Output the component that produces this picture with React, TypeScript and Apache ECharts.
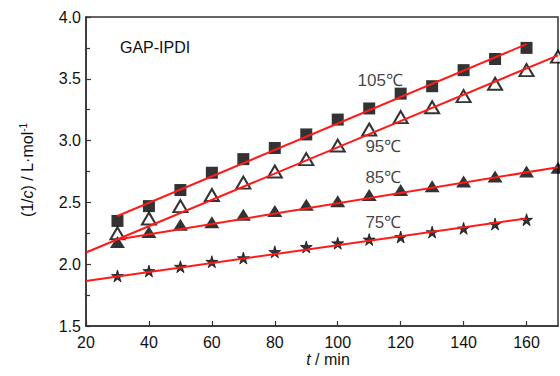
import React, { useEffect, useRef } from "react";
import * as echarts from "echarts";

const times = [30, 40, 50, 60, 70, 80, 90, 100, 110, 120, 130, 140, 150, 160];
const times170 = [...times, 170];
const s105 = [2.35, 2.47, 2.6, 2.74, 2.85, 2.94, 3.05, 3.17, 3.26, 3.38, 3.44, 3.57, 3.66, 3.75];
const s95 = [2.25, 2.37, 2.47, 2.56, 2.66, 2.75, 2.85, 2.96, 3.09, 3.19, 3.27, 3.36, 3.46, 3.57, 3.68];
const s85 = [2.18, 2.26, 2.32, 2.34, 2.4, 2.43, 2.48, 2.51, 2.56, 2.6, 2.63, 2.67, 2.71, 2.75, 2.78];
const s75 = [1.905, 1.945, 1.98, 2.02, 2.05, 2.1, 2.14, 2.17, 2.2, 2.22, 2.26, 2.29, 2.325, 2.36];

const fit105 = [[30, 2.39], [160, 3.78]];
const fit95 = [[20, 2.095], [170, 3.69]];
const fit85 = [[30, 2.2], [170, 2.785]];
const fit75 = [[20, 1.865], [160, 2.37]];

const tempLabels = [
  { text: "105℃", t: 113.5, v: 3.49 },
  { text: "95℃", t: 114.5, v: 2.95 },
  { text: "85℃", t: 114.5, v: 2.7 },
  { text: "75℃", t: 114.5, v: 2.335 },
];

const FONT = "'Liberation Sans', Arial, sans-serif";
const STAR = "path://M50,0 L61,35 L98,35 L68,57 L79,91 L50,70 L21,91 L32,57 L2,35 L39,35 Z";

const pair = (xs: number[], ys: number[]) => ys.map((y, i) => [xs[i], y]);

export default function App() {
  const ref = useRef<HTMLDivElement>(null);
  useEffect(() => {
    if (!ref.current) return;
    const chart = echarts.init(ref.current, null, { renderer: "svg" });
    const lineStyle = { color: "#ff1a1a", width: 2 };
    const fitSeries = (d: number[][]) => ({
      type: "line",
      data: d,
      showSymbol: false,
      symbol: "none",
      lineStyle,
      z: 5,
      silent: true,
    });
    chart.setOption({
      animation: false,
      grid: {
        left: 86,
        right: 2,
        top: 17,
        bottom: 50,
        show: true,
        borderColor: "#333",
        borderWidth: 1.5,
        backgroundColor: "transparent",
      },
      xAxis: {
        type: "value",
        min: 20,
        max: 170,
        interval: 20,
        axisLine: { show: true, lineStyle: { color: "#333", width: 1.5 } },
        axisTick: { show: true, inside: true, length: 5, lineStyle: { color: "#333", width: 1.2 } },
        axisLabel: { showMaxLabel: false, color: "#111", fontSize: 16, fontFamily: FONT, margin: 8 },
        splitLine: { show: false },
      },
      yAxis: {
        type: "value",
        min: 1.5,
        max: 4.0,
        interval: 0.5,
        axisLine: { show: true, lineStyle: { color: "#333", width: 1.5 } },
        axisTick: { show: true, inside: true, length: 5, lineStyle: { color: "#333", width: 1.2 } },
        minorTick: { show: true, splitNumber: 2, length: 4, lineStyle: { color: "#333", width: 1.2 } },
        axisLabel: {
          color: "#111",
          fontSize: 16,
          fontFamily: FONT,
          margin: 5,
          formatter: (v: number) => v.toFixed(1),
        },
        splitLine: { show: false },
      },
      series: [
        {
          type: "scatter",
          data: pair(times, s105),
          symbol: "rect",
          symbolSize: 12,
          itemStyle: { color: "#000" },
          z: 3,
        },
        {
          type: "scatter",
          data: pair(times170, s95),
          symbol: "triangle",
          symbolSize: [14, 12],
          itemStyle: { color: "#fff", borderColor: "#000", borderWidth: 2 },
          z: 3,
        },
        {
          type: "scatter",
          data: pair(times170, s85),
          symbol: "triangle",
          symbolSize: [15, 12],
          itemStyle: { color: "#000" },
          z: 3,
        },
        {
          type: "scatter",
          data: pair(times, s75),
          symbol: STAR,
          symbolSize: 12,
          itemStyle: { color: "#000", borderColor: "#000", borderWidth: 0.8 },
          z: 3,
        },
        fitSeries(fit105),
        fitSeries(fit95),
        fitSeries(fit85),
        fitSeries(fit75),
        {
          type: "scatter",
          data: tempLabels.map((l) => ({ value: [l.t, l.v], name: l.text })),
          symbolSize: 0,
          silent: true,
          label: {
            show: true,
            position: "inside",
            formatter: (p: any) => p.name,
            color: "#111",
            fontSize: 17,
            fontFamily: FONT,
          },
          z: 6,
        },
      ],
      graphic: [
        {
          type: "text",
          left: 120,
          top: 39,
          style: { text: "GAP-IPDI", fontSize: 16, fontFamily: FONT, fill: "#111" },
        },
        {
          type: "text",
          x: 328,
          y: 359,
          style: {
            text: "{i|t} / min",
            align: "center",
            verticalAlign: "middle",
            fontSize: 16,
            fontFamily: FONT,
            fill: "#111",
            rich: {
              i: { fontStyle: "italic", fontSize: 16, fontFamily: FONT, fill: "#111" },
            },
          },
        },
        {
          type: "text",
          x: 27,
          y: 170,
          rotation: Math.PI / 2,
          style: {
            text: "(1/{i|c}) / L·mol{s|-1}",
            align: "center",
            verticalAlign: "middle",
            fontSize: 16,
            fontFamily: FONT,
            fill: "#111",
            rich: {
              i: { fontStyle: "italic", fontSize: 16, fontFamily: FONT, fill: "#111" },
              s: { fontSize: 10, fontFamily: FONT, fill: "#111", verticalAlign: "top", padding: [0, 0, 8, 0] },
            },
          },
        },
      ],
    });
    return () => chart.dispose();
  }, []);
  return (
    <div
      ref={ref}
      style={{ position: "fixed", left: 0, top: 0, width: 560, height: 376, background: "#fff" }}
    />
  );
}
